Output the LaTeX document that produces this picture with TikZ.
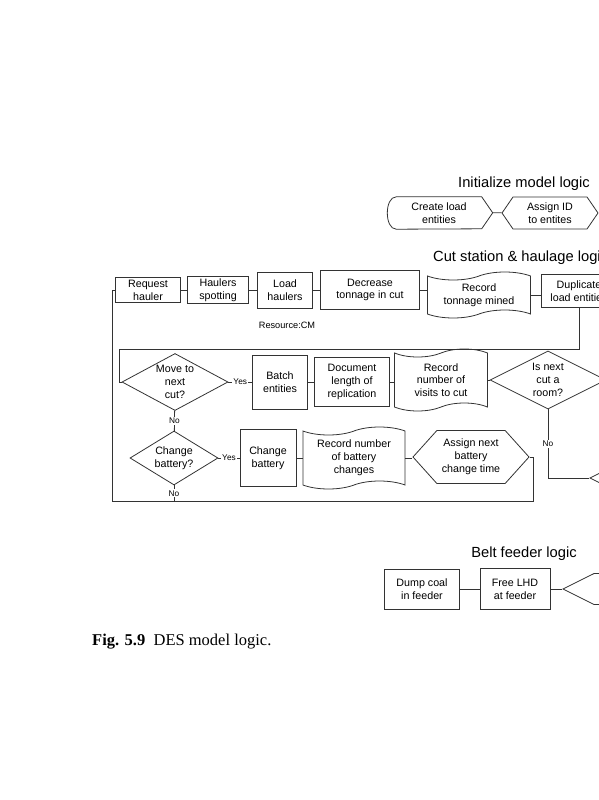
\documentclass[tikz,border=0pt]{standalone}
\usepackage{fontspec}
\setmainfont{Liberation Sans}
\newfontfamily\capfont{Liberation Serif}
\usepackage{tikz}
\usetikzlibrary{shapes.geometric}
\usetikzlibrary{shapes.symbols}
\newcommand\boxfont{\fontsize{10.7}{12.8}\selectfont}

\begin{document}
\begin{tikzpicture}[x=1pt,y=-1pt]

    \tikzstyle{conn}=[draw=black!80,line width=0.8pt]
    \tikzstyle{box}=[conn,rectangle,align=center,font=\boxfont,inner sep=2pt]
    \tikzstyle{dia}=[conn,diamond,inner sep=0pt]
    \tikzstyle{rec}=[conn,tape,tape bend height=8pt,inner sep=0pt]
    \tikzstyle{prep}=[conn,signal,signal to=west and east,inner sep=0pt]
    \tikzstyle{ttl}=[font=\fontsize{14.7}{17}\selectfont,inner sep=0pt]
    \tikzstyle{lab}=[font=\fontsize{8.3}{10}\selectfont,inner sep=1pt,fill=white]
    \tikzset{every label/.style={align=center,font=\boxfont}}

    \useasboundingbox (0,0) rectangle (599,800);
    \clip (0,0) rectangle (599,800);

    % initialize model logic
    \node[ttl](t1) at (524,184){Initialize model logic};
    \node[align=center,font=\boxfont,minimum width=85,minimum height=32,inner sep=0pt](i1) at (439,213){Create load\\entities};
    \draw[conn] (i1.north west) -- (i1.north east) -- ++(11,16) coordinate (i1r) -- ++(-11,16) -- (i1.south west) .. controls +(-12,0) and +(-12,0) .. (i1.north west);
    \node[prep,signal pointer angle=111,minimum width=96,minimum height=32,label=center:{Assign ID\\to entites}](i2) at (550,213){};
    \draw[conn](i1r)--(i2);

    % cut station & haulage logic
    \node[ttl,anchor=west](t2) at (433,258){Cut station \& haulage logic};
    \node[box,minimum width=65,minimum height=24](c1) at (148,290){Request\\hauler};
    \node[box,minimum width=61,minimum height=24](c2) at (218,290){Haulers\\spotting};
    \node[box,minimum width=55,minimum height=36](c3) at (285,290){Load\\haulers};
    \node[box,minimum width=99,minimum height=39](c4) at (370,290){Decrease\\tonnage in cut};
    \node[font=\fontsize{9.2}{11}\selectfont,inner sep=0pt](res) at (287,325){Resource:CM};
    \node[rec,minimum width=103,minimum height=46,label=center:{Record\\tonnage mined}](c5) at (479,295){};
    \node[box,minimum width=76,minimum height=33](c6) at (579,291){Duplicate\\load entities};

    \draw[conn](c1)--(c2)--(c3)--(c4);
    \draw[conn](c4.east)--(c4.east -| c5.west);
    \draw[conn](c5.east)--(c5.east -| c6.west);

    \node[dia,minimum width=106,minimum height=57,label=center:{Move to\\next\\cut?}](m1) at (175,382){};
    \node[box,minimum width=55,minimum height=54](m2) at (280,382){Batch\\entities};
    \node[box,minimum width=75,minimum height=49](m3) at (352,382){Document\\length of\\replication};
    \node[rec,minimum width=93,minimum height=62,label=center:{Record\\number of\\visits to cut}](m4) at (441,380){};
    \node[dia,minimum width=116,minimum height=58,label=center:{Is next\\cut a\\room?}](m5) at (548,380){};
    \node[prep,signal pointer angle=53,minimum width=130,minimum height=40](r1) at (655,478){};

    \coordinate (k1) at (119,349);
    \draw[conn](c6.south) |- (k1) |- (m1.west);
    \draw[conn](m1)--(m2) node[lab,midway]{Yes};
    \draw[conn](m2)--(m3);
    \draw[conn](m3.east)--(m3.east -| m4.west);
    \draw[conn](m4)--(m5);
    \draw[conn](m5.south) |- (r1.west) node[lab,pos=0.25]{No};

    \node[dia,minimum width=88,minimum height=54,label=center:{Change\\battery?}](n1) at (174,458){};
    \node[box,minimum width=56,minimum height=57](n2) at (268,458){Change\\battery};
    \node[rec,minimum width=102,minimum height=62,label=center:{Record number\\of battery\\changes}](n3) at (354,458){};
    \node[prep,signal pointer angle=96,minimum width=116,minimum height=53,label=center:{Assign next\\battery\\change time}](n4) at (471,457){};

    \draw[conn](m1)--(n1) node[lab,midway]{No};
    \draw[conn](n1)--(n2) node[lab,midway]{Yes};
    \draw[conn](n2)--(n3);
    \draw[conn](n3.east)--(n3.east -| n4.west);

    % loop back to the first box
    \coordinate (k2) at (533,501);
    \coordinate (k3) at (112,501);
    \draw[conn](n4.east) -| (k2) -- (k3) |- (c1.west);
    \draw[conn](n1.south)--(n1.south |- k3) node[lab,midway]{No};

    % belt feeder logic
    \node[ttl](t3) at (524,554){Belt feeder logic};
    \node[box,minimum width=75,minimum height=40](f1) at (422,589){Dump coal\\in feeder};
    \node[box,minimum width=70,minimum height=41](f2) at (515,589){Free LHD\\at feeder};
    \node[prep,signal pointer angle=53,minimum width=110,minimum height=31](f3) at (618,589){};
    \draw[conn](f1)--(f2)--(f3);

    \node[anchor=west,inner sep=0pt,font=\capfont\fontsize{16.5}{20}\selectfont](cap) at (92,642){\textbf{Fig. 5.9}\hspace{0.5em}DES model logic.};

\end{tikzpicture}
\end{document}
